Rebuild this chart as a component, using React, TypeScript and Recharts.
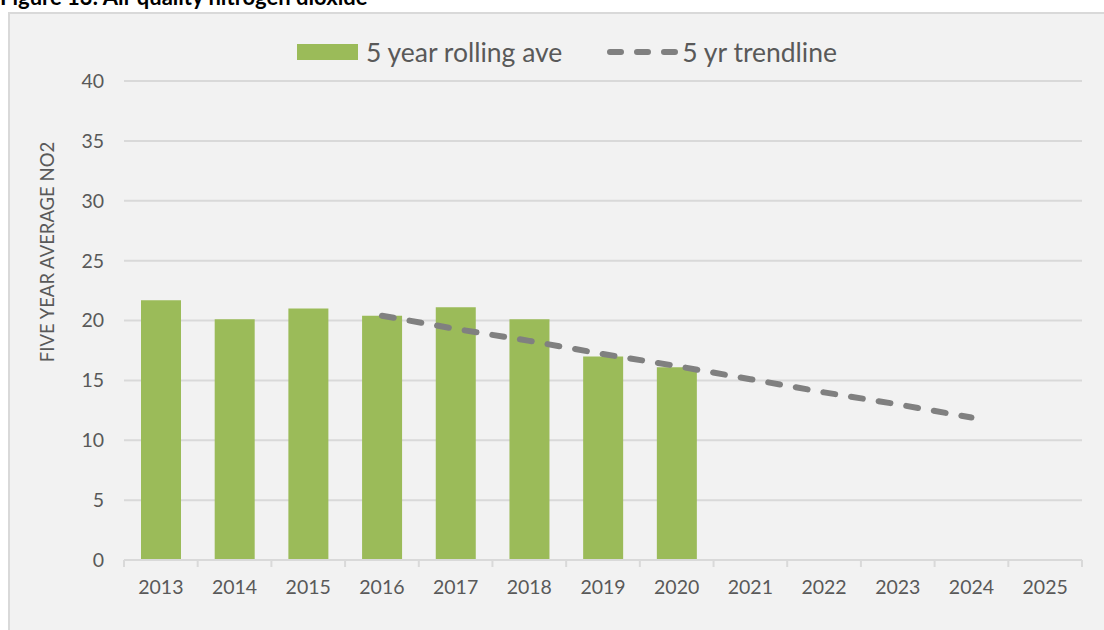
import React from "react";
import {
  Bar,
  CartesianGrid,
  ComposedChart,
  Legend,
  Line,
  XAxis,
  YAxis,
} from "recharts";

const years = [
  "2013", "2014", "2015", "2016", "2017", "2018", "2019",
  "2020", "2021", "2022", "2023", "2024", "2025",
];
// 5 year rolling average NO2 (null = no data yet)
const rollingAve = [21.7, 20.1, 21.0, 20.4, 21.1, 20.1, 17.0, 16.1, null, null, null, null, null];
// linear trendline 2016 -> 2024
const trendline = [null, null, null, 20.4, 19.3, 18.3, 17.2, 16.2, 15.1, 14.0, 13.0, 11.9, null];
const yTicks = [0, 5, 10, 15, 20, 25, 30, 35, 40];

const chartData = years.map((year, i) => ({
  year,
  ave: rollingAve[i],
  trend: trendline[i],
}));

const FONT = "Lato, 'Open Sans', sans-serif";
const TEXT = "#595959";
const GREEN = "#9BBB59";
const GREY = "#808080";
const GRID = "#d9d9d9";
const X_TICK_GAP = 20;

// year label plus Excel-style tick marks on the category boundaries
function YearTick(props: any) {
  const { x, y, payload, index } = props;
  const half = payload?.offset ?? 0;
  const axisY = y - X_TICK_GAP;
  const isLast = index === years.length - 1;
  return (
    <g>
      <line x1={x - half} y1={axisY} x2={x - half} y2={axisY + 7} stroke={GRID} strokeWidth={2} />
      {isLast && (
        <line x1={x + half} y1={axisY} x2={x + half} y2={axisY + 7} stroke={GRID} strokeWidth={2} />
      )}
      <text
        x={x}
        y={y}
        dy="0.71em"
        textAnchor="middle"
        fill={TEXT}
        fontFamily={FONT}
        fontSize={19.5}
      >
        {payload.value}
      </text>
    </g>
  );
}

function ChartLegend() {
  return (
    <div
      style={{
        display: "flex",
        alignItems: "center",
        fontFamily: FONT,
        fontSize: 26.5,
        color: TEXT,
        whiteSpace: "nowrap",
      }}
    >
      <span
        style={{
          display: "inline-block",
          width: 61,
          height: 16,
          background: GREEN,
          marginRight: 8,
        }}
      />
      <span>5 year rolling ave</span>
      <svg width={76} height={16} style={{ marginLeft: 44 }}>
        <line
          x1={4}
          y1={8}
          x2={74}
          y2={8}
          stroke={GREY}
          strokeWidth={6}
          strokeLinecap="round"
          strokeDasharray="11 16"
        />
      </svg>
      <span>5 yr trendline</span>
    </div>
  );
}

function AxisTitle() {
  return (
    <text
      x={47}
      y={252}
      transform="rotate(-90 47 252)"
      textAnchor="middle"
      dominantBaseline="central"
      fill={TEXT}
      fontFamily={FONT}
      fontSize={18.5}
    >
      FIVE YEAR AVERAGE NO2
    </text>
  );
}

export default function App() {
  return (
    <div
      style={{
        position: "absolute",
        left: 0,
        top: 0,
        width: 1104,
        height: 630,
        overflow: "hidden",
        background: "#fff",
      }}
    >
      <div
        style={{
          position: "absolute",
          left: 0,
          top: -17,
          fontFamily: "Lato, sans-serif",
          fontWeight: 700,
          fontSize: 22,
          color: "#000",
          whiteSpace: "nowrap",
        }}
      >
        Figure 13: Air quality nitrogen dioxide
      </div>
      <div
        style={{
          position: "absolute",
          left: 8,
          top: 12,
          width: 1120,
          height: 640,
          background: "#f2f2f2",
          border: `2px solid ${GRID}`,
        }}
      />
      <div style={{ position: "absolute", left: 0, top: 0 }}>
        <ComposedChart
          width={1104}
          height={630}
          data={chartData}
          margin={{ top: 81, right: 22, bottom: 40, left: 64 }}
          barSize={40}
        >
          <CartesianGrid vertical={false} stroke={GRID} strokeWidth={2} />
          <XAxis
            dataKey="year"
            height={30}
            interval={0}
            axisLine={{ stroke: GRID, strokeWidth: 2 }}
            tickLine={false}
            tickSize={0}
            tickMargin={X_TICK_GAP}
            tick={<YearTick />}
          />
          <YAxis
            domain={[0, 40]}
            ticks={yTicks}
            width={60}
            axisLine={false}
            tickLine={false}
            tickSize={0}
            tickMargin={20}
            tick={{ fill: TEXT, fontFamily: FONT, fontSize: 19.5 }}
            label={<AxisTitle />}
          />
          <Legend
            verticalAlign="middle"
            content={<ChartLegend />}
            wrapperStyle={{ top: 36, left: 297, width: "auto", height: 32 }}
          />
          <Bar
            dataKey="ave"
            name="5 year rolling ave"
            fill={GREEN}
            isAnimationActive={false}
          />
          <Line
            dataKey="trend"
            name="5 yr trendline"
            stroke={GREY}
            strokeWidth={6}
            strokeLinecap="round"
            strokeDasharray="12 16"
            dot={false}
            activeDot={false}
            isAnimationActive={false}
          />
        </ComposedChart>
      </div>
    </div>
  );
}
